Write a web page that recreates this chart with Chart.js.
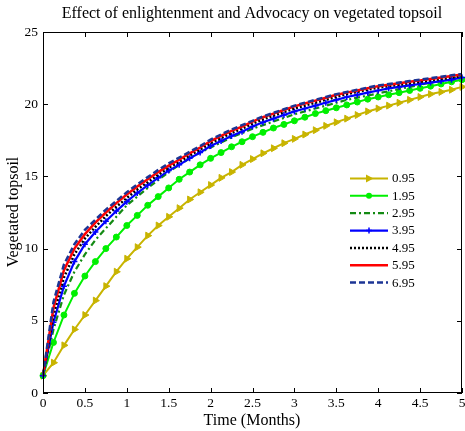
<!DOCTYPE html>
<html><head><meta charset="utf-8">
<script src="https://cdn.jsdelivr.net/npm/chart.js@4/dist/chart.umd.min.js"></script>
<style>html,body{margin:0;padding:0;background:#fff;}#wrap{width:465px;height:431px;}</style>
</head><body><div id="wrap"><canvas id="c" width="465" height="431"></canvas></div>
<script>
const titleText = 'Effect of enlightenment and Advocacy on vegetated topsoil';
const xTitle = 'Time (Months)';
const yTitle = 'Vegetated topsoil';
const times = [0,0.125,0.25,0.375,0.5,0.625,0.75,0.875,1,1.125,1.25,1.375,1.5,1.625,1.75,1.875,2,2.125,2.25,2.375,2.5,2.625,2.75,2.875,3,3.125,3.25,3.375,3.5,3.625,3.75,3.875,4,4.125,4.25,4.375,4.5,4.625,4.75,4.875,5];
const xTicks = [0,0.5,1,1.5,2,2.5,3,3.5,4,4.5,5];
const yTicks = [0,5,10,15,20,25];
const seriesLabels = ['0.95','1.95','2.95','3.95','4.95','5.95','6.95'];
const s095 = [1.2,2.1,3.3,4.4,5.4,6.4,7.4,8.4,9.3,10.1,10.9,11.6,12.2,12.8,13.4,13.9,14.4,14.9,15.3,15.8,16.2,16.6,16.95,17.3,17.6,17.9,18.2,18.5,18.75,19.0,19.25,19.5,19.7,19.9,20.1,20.3,20.5,20.7,20.85,21.0,21.2];
const s195 = [1.2,3.5,5.4,6.9,8.1,9.1,10.0,10.8,11.6,12.3,13.0,13.6,14.2,14.8,15.3,15.8,16.25,16.65,17.05,17.4,17.75,18.05,18.35,18.6,18.85,19.1,19.35,19.55,19.75,19.95,20.15,20.35,20.5,20.65,20.8,20.95,21.1,21.25,21.4,21.55,21.7];
const s295 = [1.2,4.4,6.8,8.4,9.6,10.6,11.4,12.2,13.0,13.6,14.2,14.75,15.3,15.8,16.25,16.65,17.0,17.35,17.7,18.0,18.3,18.55,18.8,19.05,19.3,19.5,19.7,19.9,20.1,20.3,20.45,20.6,20.75,20.9,21.05,21.2,21.35,21.5,21.6,21.75,21.9];
const s395 = [1.2,4.9,7.4,9.1,10.3,11.15,11.9,12.6,13.25,13.85,14.4,14.9,15.4,15.8,16.25,16.65,17.1,17.45,17.8,18.1,18.45,18.75,19.0,19.25,19.5,19.7,19.9,20.1,20.3,20.5,20.65,20.8,20.95,21.1,21.2,21.3,21.4,21.5,21.6,21.7,21.85];
const s495 = [1.2,5.4,8.0,9.6,10.7,11.5,12.25,12.9,13.5,14.1,14.6,15.1,15.6,16.0,16.45,16.85,17.3,17.65,18.0,18.3,18.65,18.95,19.2,19.45,19.7,19.9,20.1,20.3,20.5,20.7,20.85,21.0,21.15,21.25,21.35,21.45,21.55,21.65,21.75,21.85,21.95];
const s595 = [1.2,5.9,8.5,10.0,11.0,11.8,12.5,13.15,13.75,14.3,14.8,15.3,15.75,16.15,16.6,17.0,17.45,17.8,18.15,18.45,18.8,19.1,19.35,19.6,19.85,20.05,20.25,20.45,20.65,20.8,20.95,21.1,21.25,21.35,21.45,21.55,21.65,21.75,21.85,21.95,22.05];
const s695 = [1.2,6.3,8.9,10.3,11.3,12.0,12.7,13.3,13.9,14.45,14.95,15.45,15.9,16.3,16.7,17.1,17.55,17.9,18.25,18.55,18.85,19.15,19.4,19.65,19.9,20.1,20.3,20.5,20.7,20.85,21.0,21.15,21.3,21.4,21.5,21.6,21.7,21.8,21.9,22.0,22.1];
const seriesValues = [s095,s195,s295,s395,s495,s595,s695];

const styles = [
  {color:'#c8b400', width:2, dash:[], point:'triangle', radius:4, rot:90},
  {color:'#00f000', width:2, dash:[], point:'circle', radius:3, rot:0},
  {color:'#138a13', width:2.2, dash:[6,3,2,3], point:false, radius:0, rot:0},
  {color:'#0000ff', width:2.2, dash:[], point:'cross', radius:3, rot:0},
  {color:'#000000', width:2.5, dash:[2,2], point:false, radius:0, rot:0},
  {color:'#ff0000', width:2.5, dash:[], point:false, radius:0, rot:0},
  {color:'#1c3595', width:2.5, dash:[6,3], point:false, radius:0, rot:0}
];
const FONT = '"Liberation Serif","Times New Roman",serif';

const datasets = seriesValues.map((vals,i)=>({
  label: seriesLabels[i],
  data: times.map((t,j)=>({x:t,y:vals[j]})),
  borderColor: styles[i].color,
  backgroundColor: styles[i].color,
  borderWidth: styles[i].width,
  borderDash: styles[i].dash,
  pointStyle: styles[i].point || 'circle',
  pointRadius: styles[i].radius,
  pointHoverRadius: styles[i].radius,
  pointRotation: styles[i].rot,
  pointBackgroundColor: styles[i].color,
  pointBorderColor: styles[i].color,
  pointBorderWidth: styles[i].point==='cross'?1.5:1,
  tension: 0,
  fill: false,
  clip: 4,
  order: 10 - i
}));

function drawMarker(ctx, st, x, y){
  if(!st.point) return;
  ctx.save();
  ctx.setLineDash([]);
  ctx.fillStyle = st.color; ctx.strokeStyle = st.color;
  if(st.point==='triangle'){
    ctx.beginPath(); ctx.moveTo(x+4.5,y); ctx.lineTo(x-3,y-4); ctx.lineTo(x-3,y+4); ctx.closePath(); ctx.fill();
  } else if(st.point==='circle'){
    ctx.beginPath(); ctx.arc(x,y,3,0,Math.PI*2); ctx.fill();
  } else if(st.point==='cross'){
    ctx.lineWidth=1.5; ctx.beginPath(); ctx.moveTo(x,y-3); ctx.lineTo(x,y+3); ctx.moveTo(x-3,y); ctx.lineTo(x+3,y); ctx.stroke();
  }
  ctx.restore();
}

const framePlugin = {
  id:'frame',
  afterDraw(chart){
    const ctx = chart.ctx, a = chart.chartArea;
    const xs = chart.scales.x, ys = chart.scales.y;
    ctx.save();
    ctx.strokeStyle = '#000'; ctx.lineWidth = 1; ctx.setLineDash([]);
    ctx.strokeRect(Math.round(a.left)+0.5, Math.round(a.top)+0.5, Math.round(a.right-a.left)-1, Math.round(a.bottom-a.top)-1);
    ctx.beginPath();
    xTicks.forEach(v=>{
      const px = Math.round(xs.getPixelForValue(v))+0.5;
      ctx.moveTo(px,a.bottom); ctx.lineTo(px,a.bottom-5);
      ctx.moveTo(px,a.top); ctx.lineTo(px,a.top+5);
    });
    yTicks.forEach(v=>{
      const py = Math.round(ys.getPixelForValue(v))+0.5;
      ctx.moveTo(a.left,py); ctx.lineTo(a.left+5,py);
      ctx.moveTo(a.right,py); ctx.lineTo(a.right-5,py);
    });
    ctx.stroke();
    ctx.fillStyle = '#000';
    // x tick labels
    ctx.font = '13.5px '+FONT; ctx.textAlign='center'; ctx.textBaseline='top';
    xTicks.forEach(v=>{ ctx.fillText(String(v), xs.getPixelForValue(v), a.bottom+4); });
    ctx.textAlign='center'; ctx.textBaseline='middle';
    ctx.font = '16px '+FONT;
    ctx.fillText(titleText, 252, 14);
    ctx.fillText(xTitle, 252, 421);
    ctx.save(); ctx.translate(14,212); ctx.rotate(-Math.PI/2); ctx.fillText(yTitle,0,0); ctx.restore();
    // legend
    ctx.font = '13px '+FONT; ctx.textAlign='left';
    styles.forEach((st,i)=>{
      const y = 178.5 + i*17.35;
      ctx.save();
      ctx.strokeStyle = st.color; ctx.lineWidth = st.width; ctx.setLineDash(st.dash);
      ctx.beginPath(); ctx.moveTo(350,y); ctx.lineTo(388,y); ctx.stroke();
      ctx.restore();
      drawMarker(ctx, st, 369, y);
      ctx.fillStyle='#000';
      ctx.fillText(seriesLabels[i], 392, y+0.5);
    });
    ctx.restore();
  }
};

new Chart(document.getElementById('c'), {
  type:'line',
  data:{datasets},
  options:{
    responsive:false, animation:false, devicePixelRatio:1,
    layout:{autoPadding:false, padding:{top:32,right:3,left:0,bottom:0}},
    plugins:{legend:{display:false}, title:{display:false}, tooltip:{enabled:false}},
    scales:{
      x:{type:'linear', min:0, max:5,
        afterBuildTicks:s=>{s.ticks = xTicks.map(v=>({value:v}));},
        afterFit:s=>{s.height = 38; s.paddingLeft = 0; s.paddingRight = 0;},
        grid:{display:false, drawTicks:false}, border:{display:false},
        ticks:{display:false}},
      y:{type:'linear', min:0, max:25,
        afterBuildTicks:s=>{s.ticks = yTicks.map(v=>({value:v}));},
        afterFit:s=>{s.width = 43; s.paddingTop = 0; s.paddingBottom = 0;},
        grid:{display:false, drawTicks:false}, border:{display:false},
        ticks:{color:'#000', padding:5, autoSkip:false, font:{family:FONT, size:13.5},
          callback:v=>String(v)}}
    }
  },
  plugins:[framePlugin]
});
</script></body></html>
